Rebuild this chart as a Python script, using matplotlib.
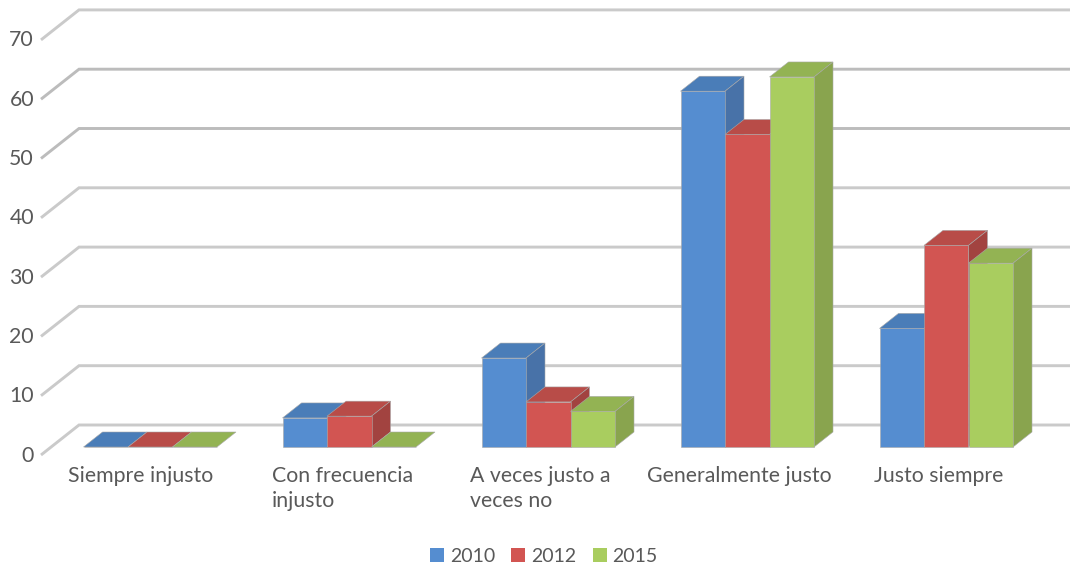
import matplotlib
matplotlib.use("Agg")
import matplotlib.pyplot as plt
from matplotlib.patches import Rectangle

plt.rcParams["font.family"] = ["Lato", "DejaVu Sans"]

categories = ["Siempre injusto", "Con frecuencia\ninjusto", "A veces justo a\nveces no",
              "Generalmente justo", "Justo siempre"]
years = ["2010", "2012", "2015"]
values_2010 = [0, 4.9, 15, 60, 20]
values_2012 = [0, 5.2, 7.6, 52.7, 34]
values_2015 = [0, 0, 6, 62.4, 31]
y_ticks = [0, 10, 20, 30, 40, 50, 60, 70]

series = [values_2010, values_2012, values_2015]
front_colors = ["#558dd0", "#d25552", "#a9cd5f"]
top_colors = ["#4a7db8", "#b84c48", "#93b353"]
side_colors = ["#4872a8", "#a24340", "#89a44e"]

# 1 x unit = 199 px, 1 y unit = 5.93 px
PX_X = 199.0
PX_Y = 5.93
bar_w = 44.5 / PX_X
depth_x = 19 / PX_X
depth_y = 15 / PX_Y
back_dy = 22 / PX_Y
wall_x = 38 / PX_X
wall_y = 30 / PX_Y
x0 = -150.25 / PX_X
x1 = (1070 - 150.25) / PX_X

fig = plt.figure(figsize=(10.7, 5.69), dpi=100)
ax = fig.add_axes([0, 0, 1, 1])
ax.set_xlim(x0, x1)
ax.set_ylim(-122 / PX_Y, 447 / PX_Y)
ax.axis("off")

# back wall grid and the slanted side wall
back_left = x0 + 79 / PX_X
for v in y_ticks:
    c = "#bcbcbc" if v in (50, 60) else "#cacaca"
    ax.plot([back_left - wall_x, back_left, x1], [v + back_dy - wall_y, v + back_dy, v + back_dy],
            color=c, lw=2.1, solid_joinstyle="miter", solid_capstyle="butt", zorder=1)
    ax.text(back_left - 45 / PX_X, v + back_dy - wall_y - 0.1, str(v), ha="right", va="center",
            fontsize=15.3, color="#595959")

# bars
for s, vals in enumerate(series):
    xs = [i + (s - 1) * bar_w for i in range(len(categories))]
    for x, v in zip(xs, vals):
        l, r = x - bar_w / 2, x + bar_w / 2
        ax.fill([l, r, r + depth_x, l + depth_x], [v, v, v + depth_y, v + depth_y],
                facecolor=top_colors[s], edgecolor="#a8a8a8", lw=0.4, zorder=2 + s)
        if v > 0:
            ax.fill([r, r + depth_x, r + depth_x, r], [0, depth_y, v + depth_y, v],
                    facecolor=side_colors[s], edgecolor="#a8a8a8", lw=0.4, zorder=2 + s)
    ax.bar(xs, vals, width=bar_w, color=front_colors[s], edgecolor="#a8a8a8", lw=0.4, zorder=2 + s)

# category labels, left aligned the way the original wraps them
label_left = [68, 272, 470, 647, 874]
for px, name in zip(label_left, categories):
    ax.text(x0 + px / PX_X, -19.0 / PX_Y, name, ha="left", va="top",
            fontsize=15.3, color="#595959", linespacing=1.32)

# legend
handles = [Rectangle((0, 0), 1, 1, facecolor=c) for c in front_colors]
fig.legend(handles, years, loc="center", bbox_to_anchor=(544 / 1070, 1 - 556 / 569), ncol=3, frameon=False,
           fontsize=14, labelcolor="#595959", handlelength=0.72, handleheight=0.72,
           handletextpad=0.31, columnspacing=0.82, borderpad=0)

fig.savefig("out.png", dpi=100)
